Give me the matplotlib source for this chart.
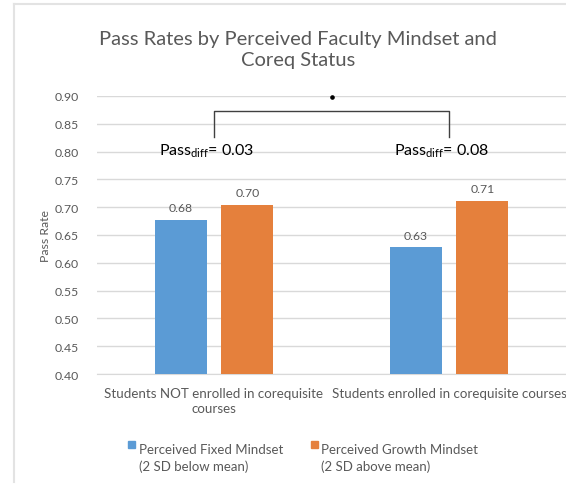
import numpy as np
import matplotlib
matplotlib.use("Agg")
import matplotlib.pyplot as plt
from matplotlib.lines import Line2D
from matplotlib.patches import Rectangle

plt.rcParams['font.family'] = ['Lato', 'DejaVu Sans']
plt.rcParams['mathtext.fontset'] = 'custom'
plt.rcParams['mathtext.rm'] = 'Lato'

# data
categories = ["Students NOT enrolled in corequisite\ncourses",
              "Students enrolled in corequisite courses"]
series_names = ["Perceived Fixed Mindset\n(2 SD below mean)",
                "Perceived Growth Mindset\n(2 SD above mean)"]
fixed_vals = [0.677, 0.628]
growth_vals = [0.704, 0.712]
diff_labels = ["0.03", "0.08"]
yticks = [0.40, 0.45, 0.50, 0.55, 0.60, 0.65, 0.70, 0.75, 0.80, 0.85, 0.90]

blue = "#5B9BD5"
orange = "#E5803C"
gray = "#595959"
grid = "#D9D9D9"

W, H = 566, 485
fig = plt.figure(figsize=(W / 100, H / 100), dpi=100)
ax = fig.add_axes([96.5 / W, 1 - 375 / H, 470 / W, (375 - 97) / H])

x = np.arange(len(categories))
bw = 0.222
off = 0.142
ax.bar(x - off, fixed_vals, bw, color=blue, zorder=3)
ax.bar(x + off, growth_vals, bw, color=orange, zorder=3)

for xi, v in zip(x - off, fixed_vals):
    ax.text(xi, v + 0.012, f"{v:.2f}", ha="center", va="bottom", fontsize=8.8, color=gray)
for xi, v in zip(x + off, growth_vals):
    ax.text(xi, v + 0.012, f"{v:.2f}", ha="center", va="bottom", fontsize=8.8, color=gray)

ax.set_ylim(0.40, 0.90)
ax.set_xlim(-0.5, 1.5)
ax.set_yticks(yticks)
ax.set_yticklabels([f"{t:.2f}" for t in yticks], fontsize=8.8, color=gray)
ax.set_xticks(x)
ax.set_xticklabels(categories, fontsize=9.6, color=gray, linespacing=1.35)
ax.tick_params(axis="x", length=0, pad=9)
ax.tick_params(axis="y", length=0, pad=13)
ax.yaxis.grid(True, color=grid, linewidth=1, zorder=0)
for s in ["top", "right", "left"]:
    ax.spines[s].set_visible(False)
ax.spines["bottom"].set_color(grid)
ax.set_ylabel("Pass Rate", fontsize=8.8, color=gray, labelpad=2)

# significance bracket
ax.plot([x[0], x[0], x[1], x[1]], [0.827, 0.873, 0.873, 0.827], color="#404040",
        linewidth=1, zorder=4, clip_on=False)
ax.plot([0.5], [0.899], marker="o", markersize=2.3, color="black", zorder=4, clip_on=False)
for xi, d in zip(x, diff_labels):
    ax.text(xi - 0.03, 0.802, r"Pass$_{\mathrm{diff}}$= " + d, ha="center", va="center",
            fontsize=11.5, color="black", zorder=5)

fig.text(298 / W, 1 - 50 / H, "Pass Rates by Perceived Faculty Mindset and\nCoreq Status",
         ha="center", va="center", fontsize=14.5, color=gray, linespacing=1.35)

# legend
for (lx, tx), name, c in zip([(128, 139), (311, 321)], series_names, [blue, orange]):
    fig.patches.append(Rectangle((lx / W, 1 - 449 / H), 7 / W, 7 / H,
                                 transform=fig.transFigure, color=c))
    fig.text(tx / W, 1 - 444 / H, name, ha="left", va="top", fontsize=9.5,
             color=gray, linespacing=1.4)

# chart frame
fig.add_artist(Line2D([14 / W, 14 / W], [1 - 483 / H, 1 - 5 / H], color="#E3E3E3", linewidth=1.5))
fig.add_artist(Line2D([14 / W, 1.0], [1 - 5 / H, 1 - 5 / H], color="#E3E3E3", linewidth=1.5))

fig.savefig("out.png", dpi=100, facecolor="white")
